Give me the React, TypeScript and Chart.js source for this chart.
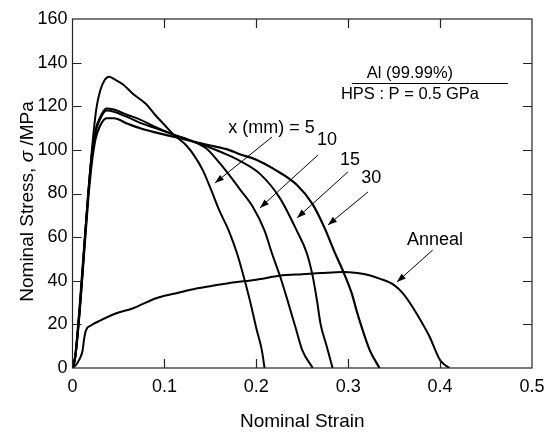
import React, { useEffect, useRef } from "react";
import { Chart, registerables } from "chart.js";

Chart.register(...registerables);

// ---- data (strain, stress in MPa) ----
const strain5 = [0, 0.003, 0.008, 0.013, 0.018, 0.022, 0.026, 0.03, 0.035, 0.04, 0.045, 0.055, 0.065, 0.08, 0.09, 0.1, 0.11, 0.124, 0.133, 0.142, 0.151, 0.16, 0.17, 0.179, 0.1875, 0.193, 0.2005, 0.206, 0.209];
const stress5 = [0, 6, 30, 58, 84, 104, 119, 127, 132, 133.5, 132.5, 130, 126, 121, 116, 111.5, 107, 102, 97, 90.5, 81.5, 72, 63, 52.6, 40, 31, 17.4, 8.2, 0];

const strain10 = [0, 0.003, 0.008, 0.0125, 0.017, 0.021, 0.025, 0.03, 0.037, 0.045, 0.06, 0.073, 0.09, 0.11, 0.13, 0.146, 0.16, 0.175, 0.182, 0.196, 0.209, 0.217, 0.2255, 0.234, 0.2435, 0.25, 0.2614];
const stress10 = [0, 5, 28, 54, 80, 98, 109, 115, 119, 118.5, 116, 114, 110.5, 107, 104, 100.5, 94, 86, 82, 74, 63, 52.6, 42.5, 31, 17.4, 8.2, 0];

const strain15 = [0, 0.003, 0.008, 0.0125, 0.017, 0.021, 0.025, 0.03, 0.037, 0.045, 0.06, 0.073, 0.09, 0.11, 0.13, 0.15, 0.17, 0.182, 0.204, 0.2255, 0.244, 0.255, 0.2614, 0.266, 0.27, 0.2766, 0.283];
const stress15 = [0, 5, 27, 53, 79, 97, 108, 114, 118, 117.5, 115, 112.5, 110, 107, 104, 101, 97.5, 95, 89, 78, 63, 52.6, 42, 31, 20, 10, 0];

const strain30 = [0, 0.003, 0.008, 0.0125, 0.017, 0.021, 0.025, 0.03, 0.037, 0.045, 0.06, 0.073, 0.09, 0.11, 0.13, 0.15, 0.17, 0.182, 0.2, 0.218, 0.244, 0.2614, 0.2745, 0.2853, 0.294, 0.3038, 0.309, 0.3147, 0.3234, 0.334];
const stress30 = [0, 5, 27, 52, 77, 94, 105, 111, 114.5, 114.5, 112, 110, 108, 106, 104, 102, 100, 98, 95.5, 91.5, 84, 75, 64, 53, 44.8, 34.3, 26.5, 18.7, 8.2, 0];

const strainAnneal = [0, 0.004, 0.007, 0.011, 0.0125, 0.0147, 0.02, 0.0288, 0.047, 0.066, 0.091, 0.11, 0.13, 0.15, 0.171, 0.2, 0.229, 0.25, 0.27, 0.294, 0.31, 0.323, 0.334, 0.35, 0.36, 0.37, 0.38, 0.389, 0.395, 0.4, 0.405, 0.41];
const stressAnneal = [0, 1.5, 3.6, 8, 13, 17.4, 19.5, 21.5, 25, 27.4, 32, 34, 36, 37.5, 39, 40.5, 42.5, 43, 43.5, 44, 43.5, 42.5, 41, 38, 34, 28, 21, 14, 8, 3.6, 1.5, 0];

const xTicks = [0, 0.1, 0.2, 0.3, 0.4, 0.5];
const yTicks = [0, 20, 40, 60, 80, 100, 120, 140, 160];

const seriesLabels = ["5", "10", "15", "30", "Anneal"];
const legendTitle = "Al (99.99%)";
const legendSub = "HPS : P = 0.5 GPa";
const xTitle = "Nominal Strain";

const FONT = "'Liberation Sans', Arial, Helvetica, sans-serif";

function pts(xs: number[], ys: number[]) {
  return xs.map((x, i) => ({ x, y: ys[i] }));
}

const decorPlugin = {
  id: "decor",
  afterDraw(chart: any) {
    const ctx = chart.ctx;
    const a = chart.chartArea;
    const xs = chart.scales.x;
    const ys = chart.scales.y;
    const X = (v: number) => xs.getPixelForValue(v);
    const Y = (v: number) => ys.getPixelForValue(v);
    ctx.save();
    // frame
    ctx.strokeStyle = "#222";
    ctx.lineWidth = 1.2;
    ctx.strokeRect(a.left, a.top, a.right - a.left, a.bottom - a.top);
    // inward ticks
    const tl = 9;
    ctx.beginPath();
    xTicks.slice(1, -1).forEach((v) => {
      const px = Math.round(X(v)) + 0.5;
      ctx.moveTo(px, a.bottom);
      ctx.lineTo(px, a.bottom - tl);
      ctx.moveTo(px, a.top);
      ctx.lineTo(px, a.top + tl);
    });
    yTicks.slice(1, -1).forEach((v) => {
      const py = Math.round(Y(v)) + 0.5;
      ctx.moveTo(a.left, py);
      ctx.lineTo(a.left + tl, py);
      ctx.moveTo(a.right, py);
      ctx.lineTo(a.right - tl, py);
    });
    ctx.stroke();

    // y title with italic sigma
    ctx.fillStyle = "#000";
    ctx.textBaseline = "middle";
    const parts = [
      { t: "Nominal Stress, ", f: `19px ${FONT}` },
      { t: "σ", f: `italic 19px ${FONT}` },
      { t: " /MPa", f: `19px ${FONT}` },
    ];
    let total = 0;
    parts.forEach((p) => {
      ctx.font = p.f;
      total += ctx.measureText(p.t).width;
    });
    ctx.save();
    ctx.translate(28, (a.top + a.bottom) / 2 + 8);
    ctx.rotate(-Math.PI / 2);
    let cx = -total / 2;
    ctx.textAlign = "left";
    parts.forEach((p) => {
      ctx.font = p.f;
      ctx.fillText(p.t, cx, 0);
      cx += ctx.measureText(p.t).width;
    });
    ctx.restore();

    // annotations
    ctx.font = `18px ${FONT}`;
    ctx.textAlign = "center";
    ctx.textBaseline = "middle";
    const label = (t: string, x: number, y: number) => ctx.fillText(t, X(x), Y(y));
    const arrow = (x1: number, y1: number, x2: number, y2: number) => {
      const p1 = [X(x1), Y(y1)];
      const p2 = [X(x2), Y(y2)];
      const ang = Math.atan2(p2[1] - p1[1], p2[0] - p1[0]);
      ctx.strokeStyle = "#000";
      ctx.lineWidth = 1;
      ctx.beginPath();
      ctx.moveTo(p1[0], p1[1]);
      ctx.lineTo(p2[0], p2[1]);
      ctx.stroke();
      const L = 9, W = 3.2;
      ctx.beginPath();
      ctx.moveTo(p2[0], p2[1]);
      ctx.lineTo(p2[0] - L * Math.cos(ang) + W * Math.sin(ang), p2[1] - L * Math.sin(ang) - W * Math.cos(ang));
      ctx.lineTo(p2[0] - L * Math.cos(ang) - W * Math.sin(ang), p2[1] - L * Math.sin(ang) + W * Math.cos(ang));
      ctx.closePath();
      ctx.fill();
    };
    label("x (mm) = " + seriesLabels[0], 0.2165, 110);
    arrow(0.2171, 105.9, 0.155, 84.8);
    label(seriesLabels[1], 0.277, 104.5);
    arrow(0.267, 97.6, 0.204, 73.4);
    label(seriesLabels[2], 0.302, 95.4);
    arrow(0.2997, 89.9, 0.2443, 68.8);
    label(seriesLabels[3], 0.325, 87.1);
    arrow(0.3215, 80.7, 0.278, 65.6);
    label(seriesLabels[4], 0.3944, 58.7);
    arrow(0.392, 54.1, 0.353, 39.4);

    // legend box
    ctx.font = `16.5px ${FONT}`;
    label(legendTitle, 0.3672, 135.0);
    label(legendSub, 0.3672, 125.6);
    ctx.lineWidth = 1.2;
    ctx.beginPath();
    ctx.moveTo(X(0.3041), Math.round(Y(130.7)) + 0.5);
    ctx.lineTo(X(0.4738), Math.round(Y(130.7)) + 0.5);
    ctx.stroke();
    ctx.restore();
  },
};

export default function App() {
  const ref = useRef<HTMLCanvasElement | null>(null);
  useEffect(() => {
    if (!ref.current) return;
    const mk = (xs: number[], ys: number[], w: number) => ({
      data: pts(xs, ys),
      borderColor: "#000",
      backgroundColor: "#000",
      borderWidth: w,
      pointRadius: 0,
      showLine: true,
      cubicInterpolationMode: "monotone",
      fill: false,
    });
    const chart = new Chart(ref.current, {
      type: "scatter",
      data: {
        datasets: [
          mk(strain5, stress5, 2),
          mk(strain10, stress10, 2),
          mk(strain15, stress15, 2),
          mk(strain30, stress30, 2.2),
          mk(strainAnneal, stressAnneal, 2),
        ] as any,
      },
      options: {
        responsive: false,
        animation: false,
        events: [],
        layout: { padding: { top: 19, right: 21, left: 0, bottom: 0 } },
        plugins: { legend: { display: false }, tooltip: { enabled: false }, title: { display: false } },
        scales: {
          x: {
            type: "linear",
            min: 0,
            max: 0.5,
            afterBuildTicks: (s: any) => {
              s.ticks = xTicks.map((v) => ({ value: v }));
            },
            afterFit: (s: any) => {
              s.height = 65;
            },
            ticks: {
              color: "#000",
              font: { family: FONT, size: 18 },
              padding: 8,
              maxRotation: 0,
              autoSkip: false,
              callback: (v: any) => (Number(v) === 0 ? "0" : Number(Number(v).toFixed(1)).toString()),
            },
            grid: { display: false, drawTicks: false },
            border: { display: false },
            title: {
              display: true,
              text: xTitle,
              color: "#000",
              font: { family: FONT, size: 19 },
              padding: { top: 8, bottom: 0 },
            },
          },
          y: {
            type: "linear",
            min: 0,
            max: 160,
            afterBuildTicks: (s: any) => {
              s.ticks = yTicks.map((v) => ({ value: v }));
            },
            afterFit: (s: any) => {
              s.width = 72.5;
            },
            ticks: {
              color: "#000",
              font: { family: FONT, size: 18 },
              padding: 5,
              autoSkip: false,
            },
            grid: { display: false, drawTicks: false },
            border: { display: false },
          },
        },
      },
      plugins: [decorPlugin],
    } as any);
    return () => chart.destroy();
  }, []);
  return (
    <div style={{ position: "fixed", left: 0, top: 0, width: 553, height: 433, background: "#fff" }}>
      <canvas ref={ref} width={553} height={433} style={{ width: 553, height: 433 }} />
    </div>
  );
}
